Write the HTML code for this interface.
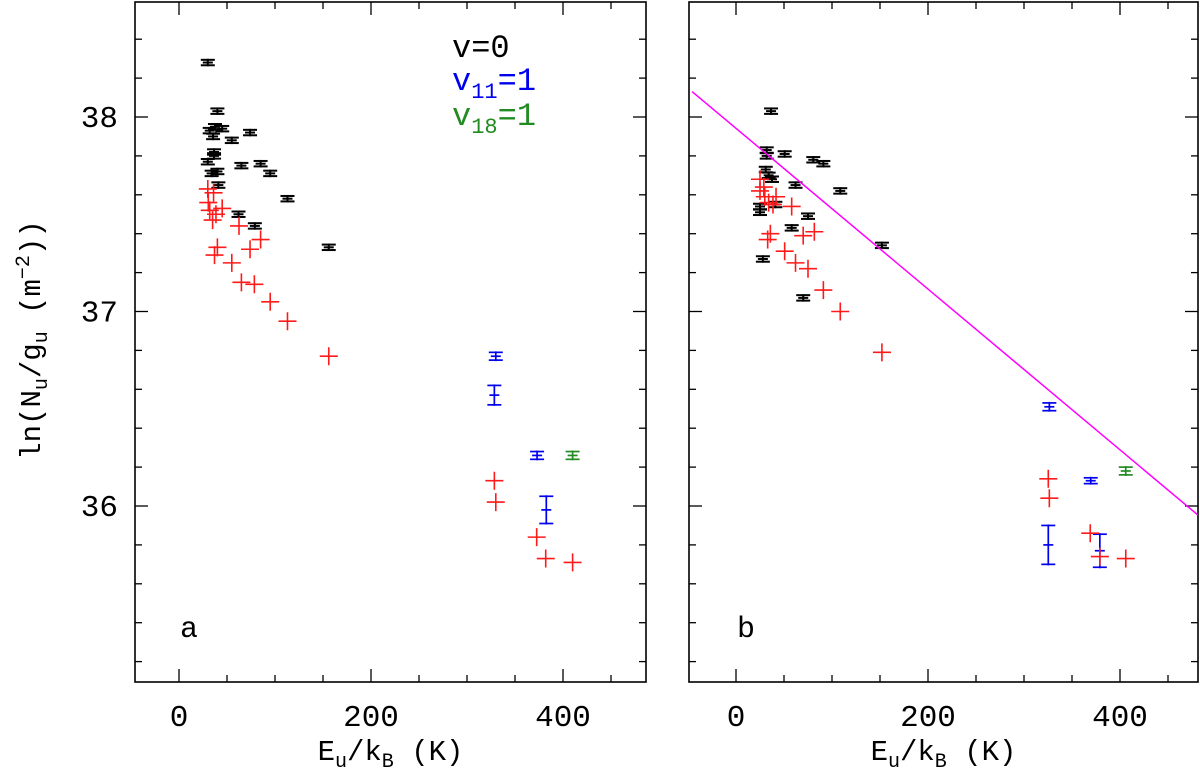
<!DOCTYPE html>
<html><head><meta charset="utf-8"><style>
html,body{margin:0;padding:0;background:#fff;}
svg{display:block;font-family:"Liberation Mono",monospace;}
</style></head><body>
<svg id="c" width="1200" height="776" viewBox="0 0 1200 776" xmlns="http://www.w3.org/2000/svg"></svg>
<script>
// ---- data ----
const xTicks = [0, 200, 400];
const yTicks = [36, 37, 38];
// Panel a
const aBlackX = [30,40,32,37.5,45,35.5,55,74,36.5,36.5,30,65,85,95,40,34,41,113,62,79,156];
const aBlackY = [38.28,38.03,37.93,37.95,37.94,37.90,37.88,37.92,37.82,37.80,37.77,37.75,37.76,37.71,37.72,37.71,37.65,37.58,37.50,37.44,37.33];
const aRedX = [30,36,30.5,32,45,38.5,35,62.5,85,74,40,37,55,65,78.5,95,113,156,328.5,330,372.6,382,410];
const aRedY = [37.63,37.61,37.56,37.52,37.53,37.50,37.47,37.44,37.37,37.32,37.33,37.29,37.25,37.15,37.14,37.05,36.95,36.77,36.13,36.02,35.84,35.73,35.71];
const aBlueX = [330,328.5,373,382.6];
const aBlueY = [36.77,36.57,36.26,35.98];
const aBlueErr = [0.02,0.05,0.02,0.07];
const aGreenX = [410];
const aGreenY = [36.26];
const aGreenErr = [0.02];
// Panel b
const bBlackX = [36.5,32,32,50.7,80.5,91,31,34,37.5,62,108.6,25,25,41,75,58,28,70,152];
const bBlackY = [38.03,37.83,37.80,37.81,37.78,37.76,37.73,37.70,37.68,37.65,37.62,37.54,37.51,37.55,37.49,37.43,37.27,37.07,37.34];
const bRedX = [25,29,25,30,41.7,34,38.5,58,35.8,33,70,81.6,50.7,62,75,91,108.6,152,325.3,326.4,369,379,406];
const bRedY = [37.68,37.64,37.62,37.59,37.59,37.56,37.55,37.54,37.40,37.37,37.39,37.41,37.31,37.25,37.22,37.11,37.00,36.79,36.14,36.04,35.86,35.74,35.73];
const bBlueX = [326.4,325.3,369.5,379];
const bBlueY = [36.51,35.80,36.13,35.77];
const bBlueErr = [0.02,0.10,0.015,0.085];
const bGreenX = [406];
const bGreenY = [36.18];
const bGreenErr = [0.02];
const fitX = [-45.8, 481];
const fitY = [38.131, 35.954];

const NS = "http://www.w3.org/2000/svg";
const svg = document.getElementById('c');
function mk(tag, attrs, parent){const e=document.createElementNS(NS,tag);for(const k in attrs)e.setAttribute(k,attrs[k]);(parent||svg).appendChild(e);return e;}

const Y0 = 117, YS = 194.5;
function sy(v){return Y0 - (v-38)*YS;}
const TOP = 2, BOT = 682;

function panel(id, left, right, x0px, label, blackX, blackY, redX, redY, blueX, blueY, blueErr, greenX, greenY, greenErr){
  const sx = v => x0px + v*0.96;
  const g = mk('g', {});
  
  
  const frame = mk('rect', {x:left, y:TOP, width:right-left, height:BOT-TOP, fill:'none', stroke:'#000', 'stroke-width':1.6}, g);
  
  
  for(let v=0; v<=450; v+=50){
    const major = v%200===0; const L = major?13:7; const x=sx(v);
    if(x<left||x>right) continue;
    mk('line',{x1:x,x2:x,y1:BOT,y2:BOT-L,stroke:'#000','stroke-width':1.3},g);
    mk('line',{x1:x,x2:x,y1:TOP,y2:TOP+L,stroke:'#000','stroke-width':1.3},g);
  }
  for(const v of xTicks){
    const t = mk('text',{x:sx(v),y:726,'text-anchor':'middle','font-size':31},g);
    t.textContent = v;
    
    
  }
  for(let i=0;i<=17;i++){
    const v = 35.2 + i*0.2; const y = sy(v);
    if(y<TOP||y>BOT) continue;
    const major = Math.abs(v-Math.round(v))<1e-6; const L = major?13:7;
    mk('line',{x1:left,x2:left+L,y1:y,y2:y,stroke:'#000','stroke-width':1.3},g);
    mk('line',{x1:right,x2:right-L,y1:y,y2:y,stroke:'#000','stroke-width':1.3},g);
  }
  if(id==='a'){
    for(const v of yTicks){
      const t = mk('text',{x:118,y:sy(v)+10,'text-anchor':'end','font-size':31},g);
      t.textContent = v;
      
      
    }
  }
  const xl = mk('text',{x:(left+right)/2,y:760,'text-anchor':'middle','font-size':29},g);
  xl.innerHTML = 'E<tspan font-size="20" dy="7">u</tspan><tspan dy="-7">/k</tspan><tspan font-size="20" dy="7">B</tspan><tspan dy="-7"> (K)</tspan>';
  
  
  const pl = mk('text',{x:sx(0)+1,y:637,'font-size':30},g);
  pl.textContent = label;
  
  

  function errbar(x,y,e,col,name,w){
    const gg = mk('g',{stroke:col,'stroke-width':w},g);
    
    
    const px=sx(x), y1=sy(y+e), y2=sy(y-e), py=sy(y);
    mk('line',{x1:px,x2:px,y1:y1-1,y2:y2+1},gg);
    mk('line',{x1:px-7,x2:px+7,y1:y1,y2:y1},gg);
    mk('line',{x1:px-7,x2:px+7,y1:y2,y2:y2},gg);
    mk('line',{x1:px-5,x2:px+5,y1:py,y2:py},gg);
  }
  for(let i=0;i<blackX.length;i++) errbar(blackX[i],blackY[i],0.014,'#000','v0-point',2);
  for(let i=0;i<blueX.length;i++) errbar(blueX[i],blueY[i],blueErr[i],'#0000ee','v11-point',1.7);
  for(let i=0;i<greenX.length;i++) errbar(greenX[i],greenY[i],greenErr[i],'#228b22','v18-point',1.7);
  for(let i=0;i<redX.length;i++){
    const px=sx(redX[i]), py=sy(redY[i]);
    const p = mk('path',{d:`M${px-9} ${py}H${px+9}M${px} ${py-9}V${py+9}`,stroke:'#ff1a1a','stroke-width':1.6,fill:'none'},g);
    
    
  }
  return sx;
}

panel('a',135,646,179,'a',aBlackX,aBlackY,aRedX,aRedY,aBlueX,aBlueY,aBlueErr,aGreenX,aGreenY,aGreenErr);
const sxb = panel('b',689,1198,736,'b',bBlackX,bBlackY,bRedX,bRedY,bBlueX,bBlueY,bBlueErr,bGreenX,bGreenY,bGreenErr);

const fit = mk('line',{x1:sxb(fitX[0]),y1:sy(fitY[0]),x2:sxb(fitX[1]),y2:sy(fitY[1]),stroke:'#ff00ff','stroke-width':1.5});



const legend = mk('g',{'font-size':32});


const l1 = mk('text',{x:452,y:57,fill:'#000'},legend);
l1.textContent = 'v=0';


const l2 = mk('text',{x:452,y:90,fill:'#0000ee'},legend);
l2.innerHTML = 'v<tspan font-size="22" dy="8">11</tspan><tspan dy="-8">=1</tspan>';


const l3 = mk('text',{x:452,y:125,fill:'#228b22'},legend);
l3.innerHTML = 'v<tspan font-size="22" dy="8">18</tspan><tspan dy="-8">=1</tspan>';



const yt = mk('text',{x:0,y:0,'font-size':29,'text-anchor':'middle',transform:'translate(40,340) rotate(-90)'});
yt.innerHTML = 'ln(N<tspan font-size="20" dy="7">u</tspan><tspan dy="-7">/g</tspan><tspan font-size="20" dy="7">u</tspan><tspan dy="-7"> (m</tspan><tspan font-size="20" dy="-11">−2</tspan><tspan dy="11">))</tspan>';


</script>
</body></html>
